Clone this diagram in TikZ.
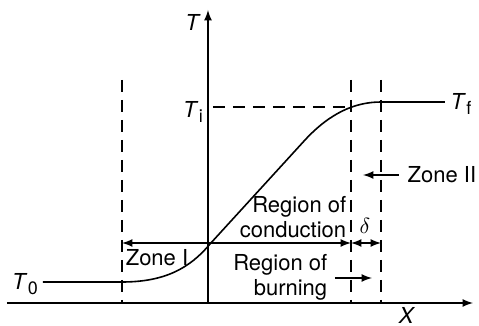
\documentclass[tikz,border=0pt]{standalone}
\usepackage{fontspec}
\setmainfont{TeX Gyre Heros}
\usepackage{tikz}
\newcommand\tsub[1]{\textit{T}\kern.3pt\raisebox{-.45ex}{\small #1}}

\begin{document}
\begin{tikzpicture}[x=0.5pt,y=-0.5pt,line width=0.8pt,>={latex[scale=1.2]},
  font=\fontsize{11}{12.5}\selectfont,
  axis/.style={->,>={latex[scale=1.6]}},
  zoneline/.style={dashed,dash pattern=on 6pt off 4pt,line width=0.6pt},
  lbl/.style={inner sep=1pt}]
\useasboundingbox (0,0) rectangle (479,326);
\coordinate (o) at (208,303); \coordinate (xend) at (473,303); \coordinate (xstart) at (7,303); \coordinate (ytop) at (208,10);
\foreach \n/\x in {a/122,b/351,c/381}{\coordinate (\n top) at (\x,80); \coordinate (\n bot) at (\x,303);}
\draw[axis] (xstart)--(xend); \draw[axis] (o)--(ytop);
\foreach \n in {a,b,c}{\draw[zoneline] (\n top)--(\n bot);}
\coordinate (ti) at (213,107); \coordinate (tiend) at (351,107);
\draw[zoneline] (ti)--(tiend);
\draw (43,282)--(122,282) .. controls (165,282) and (190,268) .. (210,244) -- (305,140) .. controls (330,113) and (355,102) .. (381,102) -- (445,102);
\node[lbl] (T) at (193,22) {\textit{T}}; \node[lbl,inner sep=0pt] (X) at (407,315) {\textit{X}};
\node[lbl] (Ti) at (193,112) {\tsub{i}}; \node[lbl] (Tf) at (461,104) {\tsub{f}}; \node[lbl] (T0) at (25,284) {\tsub{0}};
\coordinate (zl) at (122,243); \coordinate (zr) at (351,243); \coordinate (dr) at (381,243);
\draw[<->] (zl)--(zr); \draw[<->,>={latex[scale=0.7]}] (zr)--(dr);
\node[lbl] (zone1) at (157,258) {Zone I};
\node[lbl] (delta) at (365,226) {$\delta$};
\node[lbl,align=right,anchor=east] (cond) at (349,217) {Region of\\conduction};
\node[lbl,align=right,anchor=east] (burn) at (330,277) {Region of\\burning};
\coordinate (bs) at (335,278); \coordinate (be) at (372,278); \draw[->,>={latex[scale=0.8]}] (bs)--(be);
\node[lbl,anchor=east,inner sep=0pt] (zone2) at (477,175) {Zone II};
\coordinate (z2s) at (399,175); \coordinate (z2e) at (363,175); \draw[->,>={latex[scale=0.8]}] (z2s)--(z2e);
\end{tikzpicture}
\end{document}
